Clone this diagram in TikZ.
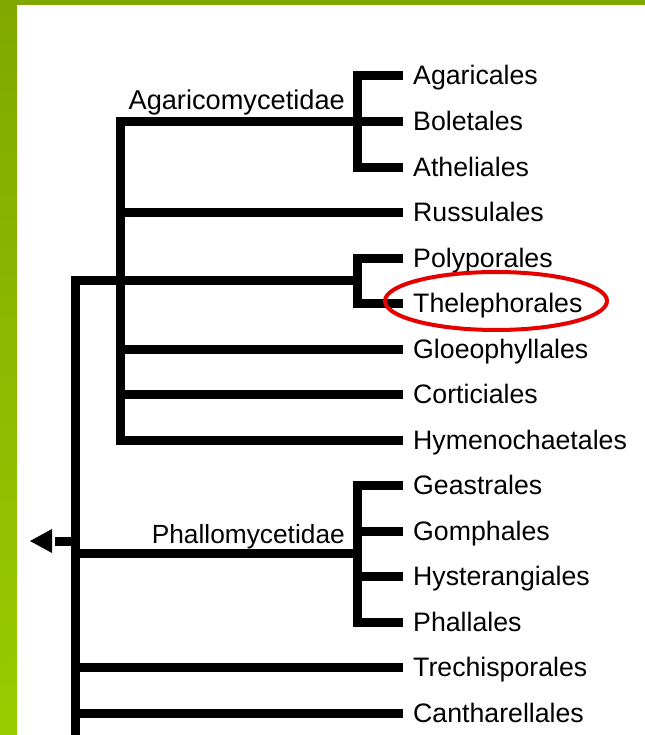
\documentclass[tikz,border=0pt]{standalone}
\usepackage{fontspec}
\setmainfont{Liberation Sans}
\begin{document}
\begin{tikzpicture}[x=1bp,y=-1bp,
  branch/.style={line width=9bp,line join=miter,line cap=butt},
  leaf/.style={anchor=base west,inner sep=0pt,font=\fontsize{26.7bp}{30bp}\selectfont},
  clade/.style={anchor=base east,inner sep=0pt,font=\fontsize{27.2bp}{30bp}\selectfont},
  ring/.style={draw=red!90!black,line width=4bp}]
\definecolor{gtop}{HTML}{80A800}
\definecolor{gbot}{HTML}{99CC00}
\useasboundingbox (0,0) rectangle (645,735);
\fill[white] (0,0) rectangle (645,735);
\fill[gtop] (0,0) rectangle (645,5);
\shade[top color=gtop,bottom color=gbot] (0,0) rectangle (17,735);
% leaf coordinates
\foreach \n/\i in {a/0,b/1,c/2,d/3,e/4,f/5,g/6,h/7,k/8,l/9,m/10,n/11,o/12,p/13,q/14}{
  \coordinate (L\n) at (403,76+45.5*\i);
}
\foreach \n/\t in {a/Agaricales,b/Boletales,c/Atheliales,d/Russulales,e/Polyporales,f/Thelephorales,g/Gloeophyllales,h/Corticiales,k/Hymenochaetales,l/Geastrales,m/Gomphales,n/Hysterangiales,o/Phallales,p/Trechisporales,q/Cantharellales}{
  \node[leaf] (T\n) at ([xshift=10bp,yshift=-9bp]L\n) {\t};
}
% internal coordinates
\coordinate (Aga) at (357,121.5);
\coordinate (Pol) at (357,280.75);
\coordinate (Pha) at (357,553.75);
\coordinate (AgT) at (120,121.5);
\coordinate (AgB) at (120,440);
\coordinate (RtT) at (75,280.75);
\coordinate (RtB) at (75,745);
\coordinate (RtA) at (75,541);
\coordinate (ArE) at (55,541);
\coordinate (ArT) at (30,541);
% brackets
\draw[branch] (La) -| (Aga) |- (Lc);
\draw[branch] (Aga) -- (Lb);
\draw[branch] (Le) -| (Pol) |- (Lf);
\draw[branch] (Ll) -| (Pha) |- (Lo);
\draw[branch] (Pha |- Lm) -- (Lm);
\draw[branch] (Pha |- Ln) -- (Ln);
% Agaricomycetidae
\draw[branch] (Aga) -- (AgT) -- (AgB) -- (Lk);
\draw[branch] (AgT |- Ld) -- (Ld);
\draw[branch] (AgT |- Lg) -- (Lg);
\draw[branch] (AgT |- Lh) -- (Lh);
% root
\draw[branch] (Pol) -- (RtT) -- (RtB);
\draw[branch] (RtT |- Pha) -- (Pha);
\draw[branch] (RtT |- Lp) -- (Lp);
\draw[branch] (RtT |- Lq) -- (Lq);
\draw[branch] (RtA) -- (ArE);
\fill (ArT) -- ++(22,-12) -- ++(0,24) -- cycle;
% clade labels
\node[clade] (agl) at (345,110) {Agaricomycetidae};
\node[clade,font=\fontsize{26.3bp}{30bp}\selectfont] (phl) at (345,543) {Phallomycetidae};
% highlight
\draw[ring] (496,301) ellipse [x radius=111, y radius=29];
\end{tikzpicture}
\end{document}
